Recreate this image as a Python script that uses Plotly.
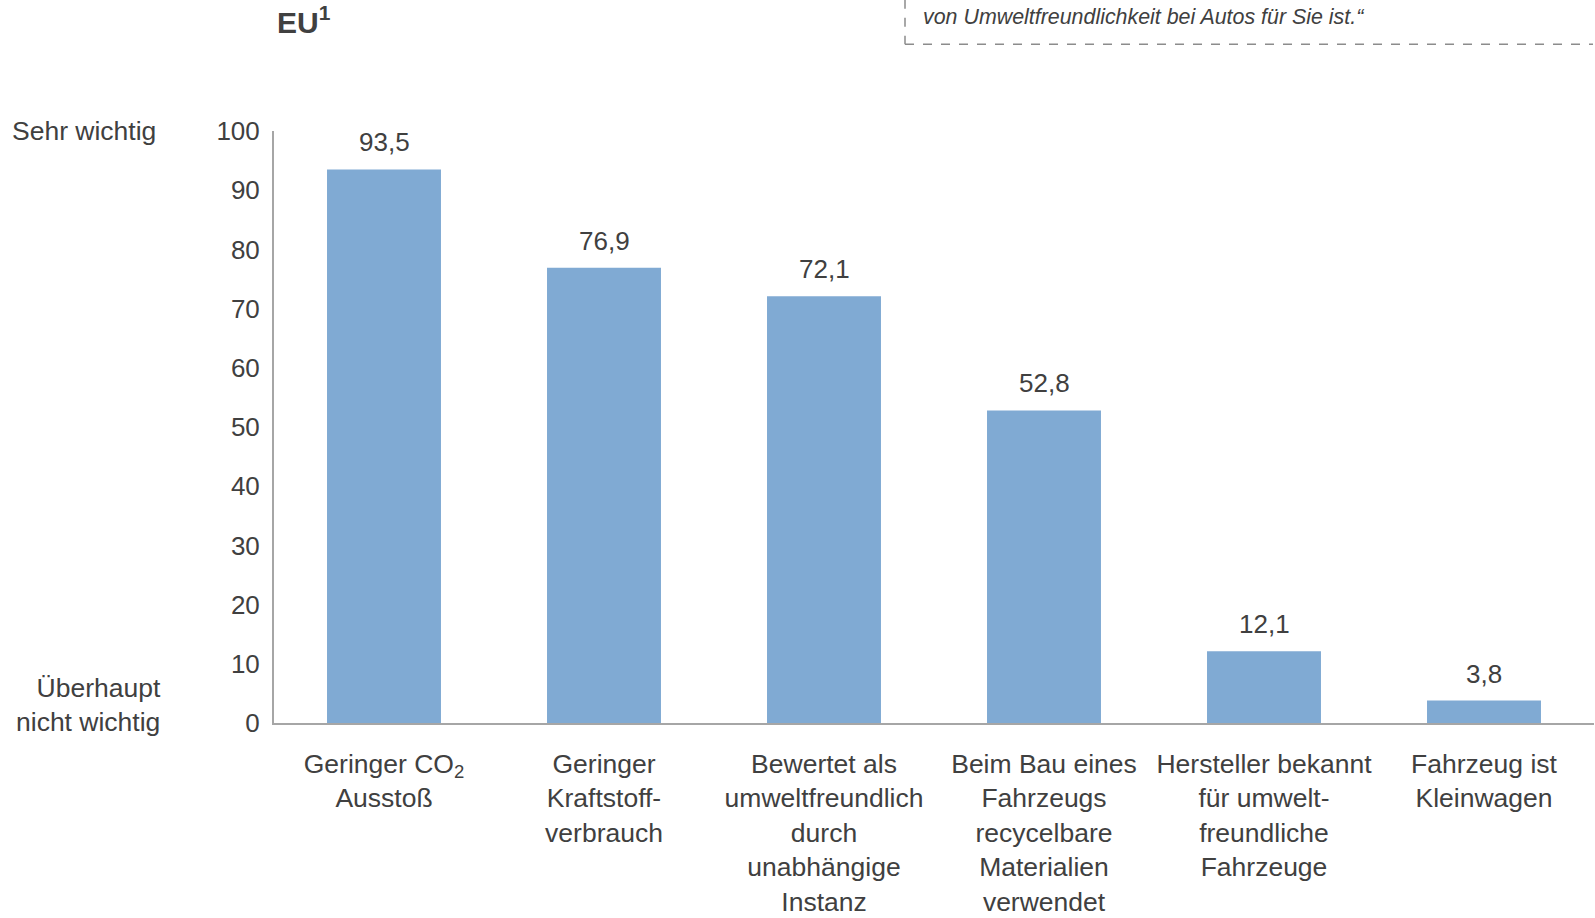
import plotly.graph_objects as go

categories = ["Geringer CO2 Ausstoß", "Geringer Kraftstoffverbrauch",
              "Bewertet als umweltfreundlich durch unabhängige Instanz",
              "Beim Bau eines Fahrzeugs recycelbare Materialien verwendet",
              "Hersteller bekannt für umweltfreundliche Fahrzeuge",
              "Fahrzeug ist Kleinwagen"]
tick_labels = ["Geringer CO<sub>2</sub><br>Ausstoß",
               "Geringer<br>Kraftstoff-<br>verbrauch",
               "Bewertet als<br>umweltfreundlich<br>durch<br>unabhängige<br>Instanz",
               "Beim Bau eines<br>Fahrzeugs<br>recycelbare<br>Materialien<br>verwendet",
               "Hersteller bekannt<br>für umwelt-<br>freundliche<br>Fahrzeuge",
               "Fahrzeug ist<br>Kleinwagen"]
values = [93.5, 76.9, 72.1, 52.8, 12.1, 3.8]
value_labels = ["93,5", "76,9", "72,1", "52,8", "12,1", "3,8"]
y_ticks = [0, 10, 20, 30, 40, 50, 60, 70, 80, 90, 100]

W, H = 1595, 918
L, R, T, B = 274, 1, 131, 187
PW, PH = W - L - R, H - T - B

def px(x):
    return (x - L) / PW

def py(y):
    return (H - B - y) / PH

TXT = "#404040"
FONT = "Liberation Sans, Arial, sans-serif"

fig = go.Figure(go.Bar(
    x=categories, y=values,
    marker=dict(color="#80AAD3", line=dict(width=0)),
    width=0.518, hoverinfo="x+y",
))

fig.update_layout(
    width=W, height=H, margin=dict(l=L, r=R, t=T, b=B),
    paper_bgcolor="white", plot_bgcolor="white", showlegend=False,
    font=dict(family=FONT, color=TXT),
    xaxis=dict(tickmode="array", tickvals=categories, ticktext=tick_labels,
               tickfont=dict(size=26.5, color=TXT), showline=True,
               linecolor="#A6A6A6", linewidth=2, showgrid=False, ticks="",
               ticklabelstandoff=16, range=[-0.5, 5.5]),
    yaxis=dict(range=[0, 100], tickvals=y_ticks, tickfont=dict(size=26, color=TXT),
               showline=True, linecolor="#A6A6A6", linewidth=2, showgrid=False,
               zeroline=False, ticks="", ticklabelstandoff=7),
)

anns = []
for c, v, t in zip(categories, values, value_labels):
    anns.append(dict(x=c, y=v, xref="x", yref="y", text=t, showarrow=False,
                     yanchor="middle", yshift=27, font=dict(size=26, color=TXT)))

extra = [
    dict(x=px(158), y=py(131), text="Sehr wichtig", xanchor="right", yanchor="middle",
         font=dict(size=26.5, color=TXT)),
    dict(x=px(163), y=py(713), text="Überhaupt<br>nicht wichtig", xanchor="right",
         yanchor="middle", align="right", font=dict(size=26.5, color=TXT)),
    dict(x=px(275), y=py(19), text="<b>EU<sup>1</sup></b>", xanchor="left",
         yanchor="middle", font=dict(size=30, color=TXT)),
    dict(x=px(921), y=py(15), text="<i>von Umweltfreundlichkeit bei Autos für Sie ist.“</i>",
         xanchor="left", yanchor="middle", font=dict(size=21.4, color=TXT)),
]
for a in extra:
    a.update(xref="paper", yref="paper", showarrow=False)
fig.update_layout(annotations=anns + extra)

fig.update_layout(shapes=[
    dict(type="line", xref="paper", yref="paper", x0=px(905), x1=px(905), y0=py(-2), y1=py(43),
         line=dict(color="#8C8C8C", width=1.5, dash="dash")),
    dict(type="line", xref="paper", yref="paper", x0=px(905), x1=px(1593), y0=py(43), y1=py(43),
         line=dict(color="#8C8C8C", width=1.5, dash="dash")),
])

fig.write_html("out.html", config={"displayModeBar": False},
               post_script="document.body.style.margin='0';document.body.style.overflow='hidden';")
